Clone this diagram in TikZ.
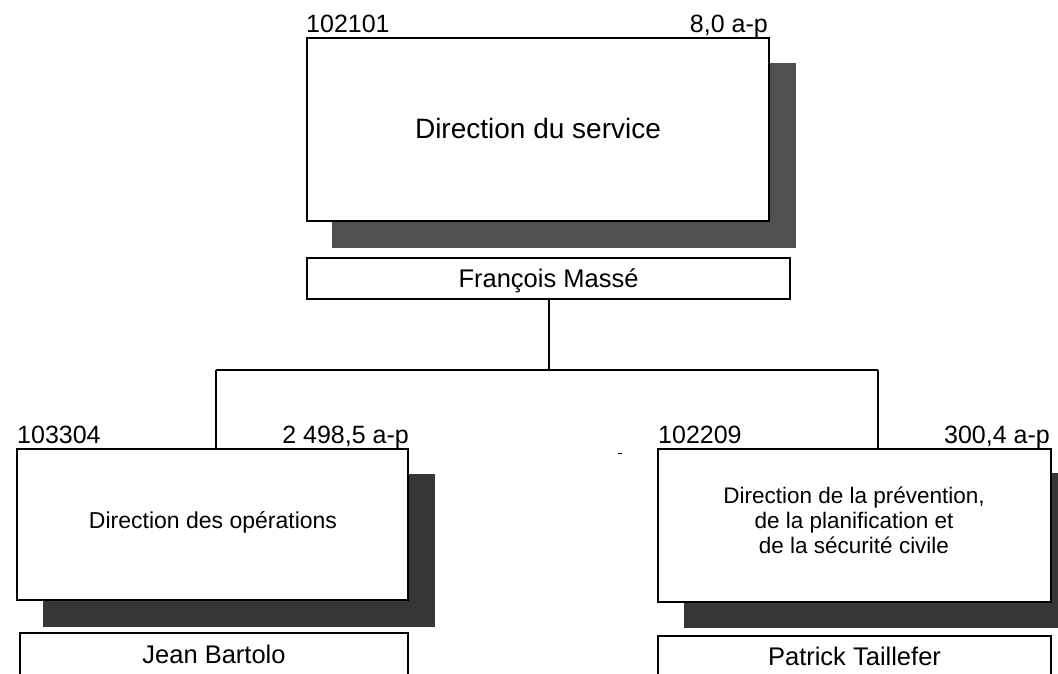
\documentclass[tikz,border=0pt]{standalone}
\usepackage{fontspec}
\setmainfont{Liberation Sans}
\definecolor{shadowA}{HTML}{505050}
\definecolor{shadowB}{HTML}{363636}
\begin{document}
\begin{tikzpicture}[x=1pt,y=-1pt,
  unitbox/.style={draw, line width=2pt, fill=white, inner sep=0pt, outer sep=0pt},
  namebox/.style={draw, line width=2pt, fill=white, inner sep=0pt, outer sep=0pt,
                  text height=18pt, text depth=0pt, font=\fontsize{25.5}{30}\selectfont},
  codelabel/.style={inner sep=0pt, font=\fontsize{25}{30}\selectfont},
  conn/.style={line width=2pt}]
\clip (0,0) rectangle (1058,673);
\fill[white] (0,0) rectangle (1058,673);
% top unit
\fill[shadowA] (332,63) rectangle (796,248);
\node[unitbox, minimum width=462pt, minimum height=183pt] (b1) at (538,129.5) {};
\node[inner sep=0pt, anchor=base, font=\fontsize{28}{32}\selectfont] (t1) at (538,138) {Direction du service};
\node[codelabel, anchor=base west] (c1) at (306,32) {102101};
\node[codelabel, anchor=base east] (a1) at (768,32) {8,0 a-p};
\node[namebox, minimum width=483pt, minimum height=41pt] (n1) at (548.5,278.5) {François Massé};
% left unit
\fill[shadowB] (43,474) rectangle (435,627);
\node[unitbox, minimum width=391pt, minimum height=151pt] (b2) at (212.5,524.5) {};
\node[inner sep=0pt, anchor=base, font=\fontsize{23}{27}\selectfont] (t2) at (213,528) {Direction des opérations};
\node[codelabel, anchor=base west] (c2) at (17,443) {103304};
\node[codelabel, anchor=base east] (a2) at (409,443) {2 498,5 a-p};
\node[namebox, minimum width=388pt, minimum height=42pt] (n2) at (214,654) {Jean Bartolo};
% right unit
\fill[shadowB] (684,473) rectangle (1085,628);
\node[unitbox, minimum width=393pt, minimum height=153pt] (b3) at (854.5,525.5) {};
\node[inner sep=0pt, align=center, font=\fontsize{22.5}{25}\selectfont] (t3) at (854,520)
  {Direction de la prévention,\\de la planification et\\de la sécurité civile};
\node[codelabel, anchor=base west] (c3) at (658,443) {102209};
\node[codelabel, anchor=base east] (a3) at (1050,443) {300,4 a-p};
\node[namebox, minimum width=393pt, minimum height=40pt] (n3) at (854.5,656) {Patrick Taillefer};
% connectors
\coordinate (jl) at (216,370);
\coordinate (jr) at (878,370);
\draw[conn] (n1.south) -- (n1.south |- jl);
\draw[conn] (jl) -- (jr);
\draw[conn] (jl) -- (jl |- b2.north);
\draw[conn] (jr) -- (jr |- b3.north);
% stray mark
\draw[line width=1pt] (618,453) -- (622,453);
\end{tikzpicture}
\end{document}
